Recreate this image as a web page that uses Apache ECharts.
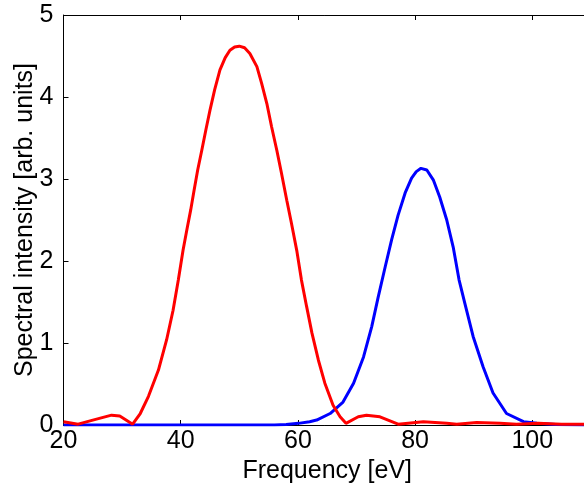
<!DOCTYPE html>
<html>
<head>
<meta charset="utf-8">
<script src="https://cdn.jsdelivr.net/npm/echarts@6/dist/echarts.min.js"></script>
<style>
html,body{margin:0;padding:0;background:#fff;}
#chart{width:584px;height:491px;}
</style>
</head>
<body>
<div id="chart"></div>
<script>
// Red spectrum (frequency in eV, intensity in arb. units)
const redX = [20, 22.5, 25, 28.2, 29.6, 31.8, 33.1, 34.5, 36.2, 37.6, 38.7, 39.6, 40.4, 41.1, 41.7, 42.3, 42.9, 43.6, 44.3, 45.0, 45.8, 46.7, 47.6, 48.4, 49.2, 50.0, 50.9, 51.8, 53.0, 53.8, 54.7, 55.5, 56.4, 57.2, 58.1, 58.9, 59.8, 60.6, 61.5, 62.4, 63.5, 64.6, 66.0, 67.2, 68.2, 70.3, 71.7, 74.0, 77.1, 81.4, 85.4, 87.1, 90.5, 94.5, 97.3, 101, 105, 110];
const redY = [0.04, 0.01, 0.06, 0.12, 0.11, 0.01, 0.14, 0.35, 0.67, 1.04, 1.40, 1.77, 2.13, 2.40, 2.62, 2.87, 3.11, 3.35, 3.60, 3.84, 4.09, 4.33, 4.48, 4.57, 4.61, 4.62, 4.60, 4.53, 4.37, 4.17, 3.92, 3.64, 3.35, 3.07, 2.74, 2.46, 2.13, 1.77, 1.44, 1.12, 0.79, 0.51, 0.24, 0.10, 0.02, 0.10, 0.12, 0.10, 0.01, 0.04, 0.02, 0.01, 0.03, 0.02, 0.01, 0.02, 0.01, 0.01];
// Blue spectrum
const blueX = [20, 40, 56, 58, 60.1, 62, 63.2, 65.5, 67.7, 69.5, 71.2, 72.6, 73.7, 74.9, 76.0, 77.1, 78.3, 79.4, 80.2, 81.0, 82.0, 83.1, 84.2, 85.4, 86.5, 87.5, 88.5, 89.9, 91.6, 93.3, 95.6, 98.5, 100.8, 104, 110];
const blueY = [0, 0, 0, 0.005, 0.02, 0.04, 0.06, 0.14, 0.28, 0.51, 0.83, 1.20, 1.56, 1.93, 2.26, 2.56, 2.83, 3.01, 3.09, 3.13, 3.11, 2.99, 2.78, 2.50, 2.17, 1.77, 1.48, 1.08, 0.71, 0.39, 0.14, 0.04, 0.02, 0.005, 0];
// Axis ticks
const xTicks = [20, 40, 60, 80, 100];
const yTicks = [0, 1, 2, 3, 4, 5];
const xTitle = 'Frequency [eV]';
const yTitle = 'Spectral intensity [arb. units]';

const zip = (xs, ys) => xs.map((x, i) => [x, ys[i]]);
const FONT = 'Liberation Sans, Arial, sans-serif';

const chart = echarts.init(document.getElementById('chart'), null, {renderer: 'canvas'});
const axisLine = {show: true, onZero: false, lineStyle: {color: '#000', width: 1}};
chart.setOption({
  animation: false,
  backgroundColor: '#fff',
  grid: {left: 63.5, top: 15, width: 527.4, height: 410, containLabel: false, outerBoundsMode: 'none'},
  xAxis: [{
    type: 'value', min: 20, max: 110, interval: 20,
    position: 'bottom',
    axisLine: axisLine,
    axisTick: {show: true, inside: true, length: 5, lineStyle: {color: '#000'}},
    splitLine: {show: false},
    axisLabel: {color: '#000', fontSize: 25, fontFamily: FONT, margin: 4,
      formatter: v => xTicks.includes(v) ? String(v) : ''},
    name: xTitle, nameLocation: 'middle', nameGap: 34, nameMoveOverlap: false,
    nameTextStyle: {color: '#000', fontSize: 25, fontFamily: FONT}
  }, {
    type: 'value', min: 20, max: 110, interval: 20, position: 'top',
    axisLine: axisLine,
    axisTick: {show: true, inside: true, length: 5, lineStyle: {color: '#000'}},
    axisLabel: {show: false}, splitLine: {show: false}
  }],
  yAxis: [{
    type: 'value', min: 0, max: 5, interval: 1,
    axisLine: axisLine,
    axisTick: {show: true, inside: true, length: 5, lineStyle: {color: '#000'}},
    splitLine: {show: false},
    axisLabel: {color: '#000', fontSize: 25, fontFamily: FONT, margin: 10,
      formatter: v => yTicks.includes(v) ? String(v) : ''},
    name: yTitle, nameLocation: 'middle', nameGap: 26, nameMoveOverlap: false,
    nameTextStyle: {color: '#000', fontSize: 25, fontFamily: FONT}
  }, {
    type: 'value', min: 0, max: 5, interval: 1, position: 'right',
    axisLine: axisLine,
    axisTick: {show: true, inside: true, length: 5, lineStyle: {color: '#000'}},
    axisLabel: {show: false}, splitLine: {show: false}
  }],
  series: [{
    type: 'line', name: 'blue', data: zip(blueX, blueY),
    showSymbol: false, smooth: false, clip: true,
    lineStyle: {color: '#0000ff', width: 3}
  }, {
    type: 'line', name: 'red', data: zip(redX, redY),
    showSymbol: false, smooth: false, clip: true,
    lineStyle: {color: '#ff0000', width: 3}
  }]
});
</script>
</body>
</html>
